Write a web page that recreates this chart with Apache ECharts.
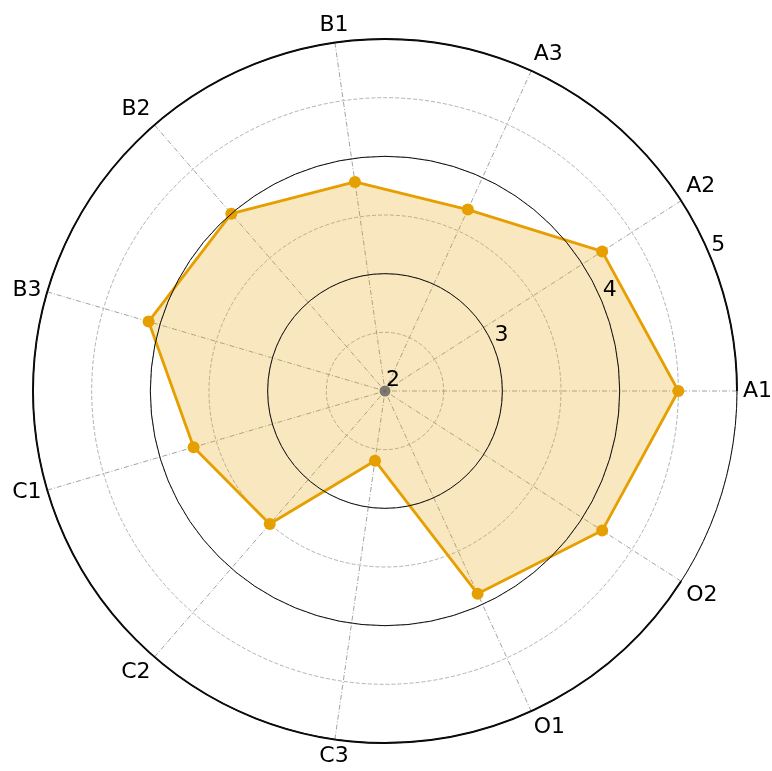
<!DOCTYPE html>
<html>
<head>
<meta charset="utf-8">
<script src="https://cdn.jsdelivr.net/npm/echarts@6/dist/echarts.min.js"></script>
<style>
html,body{margin:0;padding:0;background:#fff;}
#chart{width:772px;height:771px;}
</style>
</head>
<body>
<div id="chart"></div>
<script>
const categories = ['A1', 'A2', 'A3', 'B1', 'B2', 'B3', 'C1', 'C2', 'C3', 'O1', 'O2'];
const scores = [4.5, 4.2, 3.7, 3.8, 4.0, 4.1, 3.7, 3.5, 2.6, 3.9, 4.2];
const radialTicks = [2, 3, 4, 5];
const centerValue = [2];
const rMin = 2;
const rMax = 5;

const FONT = 'DejaVu Sans';
const CENTER = [385, 391];
const RADIUS = 352;

const chart = echarts.init(document.getElementById('chart'), null, {renderer: 'canvas'});
chart.setOption({
  animation: false,
  backgroundColor: '#fff',
  polar: [
    {center: CENTER, radius: RADIUS},
    {center: CENTER, radius: RADIUS},
    {center: CENTER, radius: RADIUS}
  ],
  radar: {
    center: CENTER,
    radius: RADIUS,
    startAngle: 0,
    shape: 'circle',
    splitNumber: 3,
    indicator: categories.map(n => ({name: n, min: rMin, max: rMax})),
    axisName: {show: false},
    axisLine: {show: false},
    axisTick: {show: false},
    axisLabel: {show: false},
    splitLine: {show: false},
    splitArea: {show: false}
  },
  angleAxis: [
    {
      polarIndex: 0,
      type: 'category',
      data: categories,
      startAngle: 0,
      clockwise: false,
      boundaryGap: false,
      z: 1,
      axisLine: {show: true, lineStyle: {color: '#000', width: 1.9}},
      axisTick: {show: false},
      axisLabel: {show: true, margin: 6, fontSize: 22, color: '#000', fontFamily: FONT},
      splitLine: {show: true, lineStyle: {color: '#8c8c8c', width: 0.8, type: [5, 2, 1, 2]}},
      splitArea: {show: false}
    },
    {
      polarIndex: 1,
      type: 'value',
      startAngle: 0,
      clockwise: false,
      axisLine: {show: false},
      axisTick: {show: false},
      axisLabel: {show: false},
      splitLine: {show: false}
    },
    {
      polarIndex: 2,
      type: 'value',
      startAngle: 22.5,
      clockwise: false,
      axisLine: {show: false},
      axisTick: {show: false},
      axisLabel: {show: false},
      splitLine: {show: false}
    }
  ],
  radiusAxis: [
    {
      polarIndex: 0,
      type: 'value',
      min: rMin,
      max: rMax,
      axisLine: {show: false},
      axisTick: {show: false},
      axisLabel: {show: false},
      splitLine: {show: false}
    },
    {
      polarIndex: 1,
      type: 'value',
      min: rMin,
      max: rMax,
      interval: 0.5,
      z: 1,
      axisLine: {show: false},
      axisTick: {show: false},
      axisLabel: {show: false},
      splitLine: {show: true, lineStyle: {color: '#a0a0a0', width: 0.8, type: [4, 2]}}
    },
    {
      polarIndex: 2,
      type: 'value',
      min: rMin,
      max: rMax,
      interval: 1,
      z: 10,
      axisLine: {show: false},
      axisTick: {show: false},
      axisLabel: {
        show: true,
        margin: 0,
        align: 'left',
        verticalAlign: 'bottom',
        fontSize: 22,
        color: '#000',
        fontFamily: FONT,
        padding: [0, 0, 0, 1],
        formatter: v => radialTicks.includes(v) ? String(v) : ''
      },
      splitLine: {show: true, lineStyle: {color: '#111', width: 1}}
    }
  ],
  series: [
    {
      type: 'radar',
      radarIndex: 0,
      z: 3,
      symbol: 'circle',
      symbolSize: 12,
      data: [{value: scores, name: 'scores'}],
      lineStyle: {color: '#E69F00', width: 2.8},
      itemStyle: {color: '#E69F00'},
      areaStyle: {color: '#E69F00', opacity: 0.25}
    },
    {
      type: 'scatter',
      coordinateSystem: 'polar',
      polarIndex: 0,
      data: centerValue.map(v => [v, 0]),
      symbol: 'circle',
      symbolSize: 11,
      z: 4,
      itemStyle: {color: '#606060'}
    }
  ]
});
</script>
</body>
</html>
